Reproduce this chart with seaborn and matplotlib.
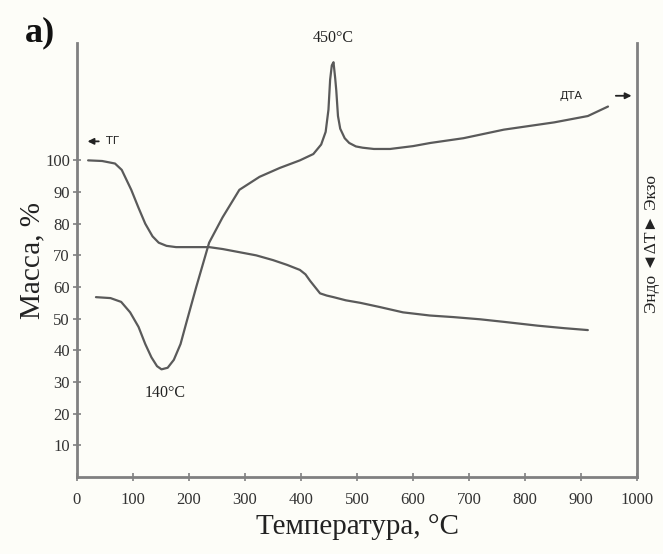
import pandas as pd
import seaborn as sns
import matplotlib.pyplot as plt

# TG curve (mass, %)
tg_temp = [20, 45, 68, 80, 97, 110, 122, 135, 146, 160, 177, 200, 236, 260, 290, 320, 350, 375, 398, 408, 416, 425, 434, 446, 458, 480, 506, 540, 582, 630, 672, 720, 762, 822, 870, 912]
tg_mass = [100, 99.8, 99, 97, 90.7, 85, 80, 76, 74, 73, 72.6, 72.6, 72.6, 72, 71, 70, 68.5, 67, 65.4, 64, 62, 60, 58, 57.3, 56.8, 55.8, 55, 53.7, 52, 51, 50.5, 49.8, 49, 47.8, 47, 46.4]

# DTA curve (arbitrary units, drawn on the same scale)
dta_temp = [34, 60, 79, 95, 110, 122, 133, 143, 151, 162, 173, 185, 195, 213, 236, 260, 290, 326, 362, 398, 422, 436, 444, 449, 452, 455, 458, 461, 463, 466, 470, 478, 486, 498, 510, 530, 559, 600, 631, 690, 762, 852, 912, 948]
dta_val = [56.8, 56.5, 55.3, 52, 47.4, 42, 37.8, 35, 34, 34.5, 37, 42, 48.5, 60, 74, 82, 90.7, 94.8, 97.6, 100, 102, 105, 109, 116, 125.5, 130, 131, 126, 122, 114, 110, 107, 105.5, 104.4, 104, 103.6, 103.6, 104.5, 105.5, 107, 109.7, 112, 114, 117]

tg = pd.DataFrame({"T": tg_temp, "v": tg_mass})
dta = pd.DataFrame({"T": dta_temp, "v": dta_val})

sns.set_style("white")
plt.rcParams['font.family'] = ['Liberation Serif', 'DejaVu Serif']

line_col = "#5a5a5a"
spine_col = "#808080"

fig = plt.figure(figsize=(6.63, 5.54), dpi=100, facecolor="#fdfdf8")
ax = fig.add_axes([0.116, 0.139, 0.845, 0.783])
ax.set_facecolor("#fdfdf8")

sns.lineplot(data=tg, x="T", y="v", ax=ax, color=line_col, linewidth=1.6, sort=False)
sns.lineplot(data=dta, x="T", y="v", ax=ax, color=line_col, linewidth=1.6, sort=False)

ax.set_xlim(0, 1000)
ax.set_ylim(0, 137)
ax.set_xticks(range(0, 1001, 100))
ax.set_yticks(range(10, 101, 10))
ax.tick_params(axis="both", labelsize=12, labelcolor="#333333", color=spine_col,
               direction="inout", length=6, width=1.2, bottom=True, left=True)
ax.tick_params(axis="x", pad=8)
ax.tick_params(axis="y", pad=2)

for side in ["left", "bottom", "right"]:
    ax.spines[side].set_color(spine_col)
    ax.spines[side].set_linewidth(2)
ax.spines["top"].set_visible(False)

ax.set_xlabel("Температура, °C", fontsize=21, color="#222222", labelpad=4)
ax.set_ylabel("Масса, %", fontsize=21, color="#222222", labelpad=0)

# peak labels
ax.text(458, 136, "450°C", ha="center", va="bottom", fontsize=11.5, color="#222222")
ax.text(158, 26.5, "140°C", ha="center", va="center", fontsize=11.5, color="#222222")

# curve markers
ax.annotate("", xy=(14, 106), xytext=(44, 106),
            arrowprops=dict(arrowstyle="-|>", color="#222222", lw=1.3, mutation_scale=9))
ax.text(52, 106, "ТГ", ha="left", va="center", fontsize=8, family=["DejaVu Sans"], color="#222222")
ax.text(862, 120.4, "ДТА", ha="left", va="center", fontsize=8, family=["DejaVu Sans"], color="#222222")
ax.annotate("", xy=(995, 120.4), xytext=(957, 120.4),
            arrowprops=dict(arrowstyle="-|>", color="#222222", lw=1.3, mutation_scale=9))

fig.text(0.06, 0.94, "a)", fontsize=26, fontweight="bold", ha="center", va="center", color="#111111")
fig.text(0.984, 0.56, "Эндо ◄ΔT► Экзо", rotation=90, fontsize=12.5, ha="center", va="center",
         color="#222222", family=["Liberation Serif", "DejaVu Sans"])

fig.savefig("out.png", dpi=100, facecolor=fig.get_facecolor())
